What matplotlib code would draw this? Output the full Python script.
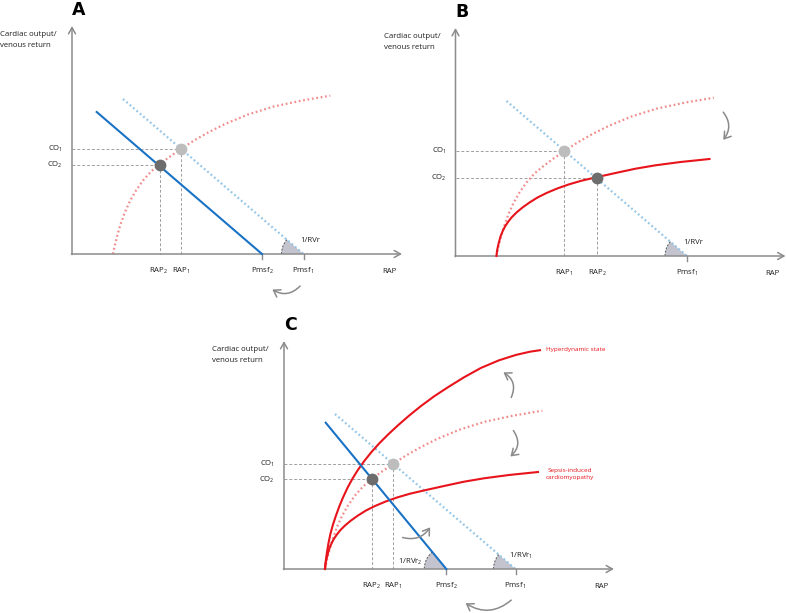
import numpy as np
import matplotlib
matplotlib.use("Agg")
import matplotlib.pyplot as plt
from matplotlib.patches import Wedge, Arc, FancyArrowPatch

plt.rcParams['font.family'] = ['Open Sans', 'DejaVu Sans']
plt.rcParams['mathtext.fontset'] = 'custom'
plt.rcParams['mathtext.rm'] = 'Open Sans'
plt.rcParams['mathtext.default'] = 'regular'

# --- curves (x = RAP, y = CO/VR, arbitrary units) ---
# normal cardiac function curve (dotted)
base_x = [41, 42.7, 45, 48.3, 53, 58, 64, 71, 79, 88, 97, 109, 122, 137, 153, 176, 201.7, 231, 258.3]
base_y = [0, 8.3, 17.5, 29, 42, 53, 63.5, 73.5, 82.5, 90, 96.8, 105, 113.5, 122, 130, 139.5, 147.5, 153.7, 158.3]

# sepsis-induced cardiomyopathy (depressed curve)
sepsis_x = [41, 41.5, 42.3, 43.5, 45, 47, 49.5, 52.5, 56, 61, 67, 74, 82, 91, 101.7, 113, 126,
            142, 160, 180, 200, 225, 254]
sepsis_y = [0, 5, 9, 14, 19.5, 24.5, 29.5, 34, 38.5, 43.5, 48.5, 53.5, 58.5, 63, 67.5, 71.5,
            75.3, 79, 83, 87.3, 90.7, 94, 97]

# hyperdynamic state
hyper_x = [41, 41.4, 42, 43, 44.5, 46.5, 49, 52, 55.3, 59, 63.5, 68.5, 74, 80.5, 87.5, 95.3, 104,
           114, 125, 137, 150, 164, 180, 197, 215, 232, 246, 256]
hyper_y = [0, 5, 10, 17, 26, 35.5, 44.5, 53.5, 62.6, 71.5, 81.2, 90.4, 99.2, 108.3, 117, 125.7,
           134.4, 143.7, 153.3, 163, 172.6, 181.8, 191.7, 201.1, 208.7, 214.1, 217.3, 218.8]

# venous return lines: [x_start, Pmsf], [y_start, 0]
vr1_x, vr1_y = [51, 231.5], [155, 0]
vr2a_x, vr2a_y = [24.7, 190], [142, 0]
vr2c_x, vr2c_y = [41.7, 162.3], [146.3, 0]

# operating points (RAP, CO)
op_a = {'1': (108.6, 105.3), '2': (88, 89)}
op_b = {'1': (108.6, 105.3), '2': (141.8, 78.5)}
op_c = {'1': (108.6, 105.3), '2': (88.3, 89.6)}

W, H = 786, 613
AXC = '#8c8c8c'
RED = '#e8141b'
RED_DOT = '#f28b8b'
BLUE = '#1a72c4'
BLUE_DOT = '#92c5e8'
GUIDE = '#a0a0a0'
ARROW = '#8a8a8a'
TXT = '#1e1e1e'
FS = 5.6

fig = plt.figure(figsize=(W / 100, H / 100), dpi=100)


def panel(ox, oy, box):
    l, t, r, b = box
    ax = fig.add_axes([l / W, 1 - b / H, (r - l) / W, (b - t) / H])
    ax.set_xlim(l - ox, r - ox)
    ax.set_ylim(oy - b, oy - t)
    ax.axis('off')
    return ax


def frame(ax, letter):
    st = '->,head_length=0.45,head_width=0.25'
    ax.annotate('', xy=(0, 228), xytext=(0, -0.6), annotation_clip=False,
                arrowprops=dict(arrowstyle=st, color=AXC, lw=1.1, shrinkA=0, shrinkB=0))
    ax.annotate('', xy=(330, 0), xytext=(-0.6, 0), annotation_clip=False,
                arrowprops=dict(arrowstyle=st, color=AXC, lw=1.1, shrinkA=0, shrinkB=0))
    ax.text(-72, 214, 'Cardiac output/\nvenous return', fontsize=FS, ha='left',
            va='center', linespacing=1.7, color=TXT)
    ax.text(317, -17, 'RAP', fontsize=FS, ha='center', va='center', color=TXT)
    ax.text(0, 244, letter, fontsize=12.5, fontweight='bold', ha='left', va='center',
            family='DejaVu Sans')


def dotted(ax, x, y, color):
    ax.plot(x, y, color=color, lw=1.6, ls=(0, (0.8, 1.2)), dash_capstyle='butt', zorder=2)


def solid(ax, x, y, color):
    ax.plot(x, y, color=color, lw=1.5, zorder=3, solid_joinstyle='round')


def tick(ax, x, label):
    ax.plot([x, x], [0, -5], color=AXC, lw=1.0)
    ax.text(x, -17, label, fontsize=FS, ha='center', va='center', color=TXT)


def wedge(ax, vx, vy):
    ang = np.degrees(np.arctan2(vy[0] - vy[1], vx[1] - vx[0]))
    ax.add_patch(Wedge((vx[1], 0), 22, 180 - ang, 180, facecolor='#c4c4ce',
                       edgecolor='none', zorder=1))
    ax.add_patch(Arc((vx[1], 0), 44, 44, theta1=180 - ang, theta2=180, color='#555555',
                     lw=0.7, ls=(0, (2, 1.5)), zorder=1))


def ops(ax, pts, labels):
    for k, (x, y) in pts.items():
        ax.plot([0, x], [y, y], color=GUIDE, lw=0.7, ls=(0, (3, 2)), zorder=1)
        ax.plot([x, x], [y, 0], color=GUIDE, lw=0.7, ls=(0, (3, 2)), zorder=1)
        ax.plot(x, y, 'o', ms=8.5, mec='none', color='#bdbdbd' if k == '1' else '#6d6d6d',
                zorder=5)
        ax.text(-9, y, 'CO$_%s$' % k, fontsize=FS, ha='right', va='center', color=TXT)
        if labels:
            ax.text(x, -17, 'RAP$_%s$' % k, fontsize=FS, ha='center', va='center', color=TXT)


def curved(ax, a, b, rad):
    ax.add_patch(FancyArrowPatch(a, b, connectionstyle='arc3,rad=%s' % rad,
                                 arrowstyle='->,head_length=0.45,head_width=0.3',
                                 mutation_scale=10, color=ARROW, lw=1.1, zorder=4))


# ---------------- A ----------------
ax = panel(72, 254, (0, 0, 393, 300))
frame(ax, 'A')
wedge(ax, vr1_x, vr1_y)
dotted(ax, base_x, base_y, RED_DOT)
dotted(ax, vr1_x, vr1_y, BLUE_DOT)
solid(ax, vr2a_x, vr2a_y, BLUE)
ops(ax, op_a, False)
ax.text(op_a['2'][0] - 1, -17, 'RAP$_2$', fontsize=FS, ha='center', va='center', color=TXT)
ax.text(op_a['1'][0] + 1, -17, 'RAP$_1$', fontsize=FS, ha='center', va='center', color=TXT)
tick(ax, vr2a_x[1], 'Pmsf$_2$')
tick(ax, vr1_x[1], 'Pmsf$_1$')
ax.text(228, 14, '1/RVr', fontsize=FS, ha='left', va='center', color=TXT)
curved(ax, (230, -30), (198, -34), -0.45)

# ---------------- B ----------------
ax = panel(455.5, 256, (393, 0, 786, 300))
frame(ax, 'B')
wedge(ax, vr1_x, vr1_y)
dotted(ax, base_x, base_y, RED_DOT)
solid(ax, sepsis_x, sepsis_y, RED)
dotted(ax, vr1_x, vr1_y, BLUE_DOT)
ops(ax, op_b, True)
tick(ax, vr1_x[1], 'Pmsf$_1$')
ax.text(228, 14, '1/RVr', fontsize=FS, ha='left', va='center', color=TXT)
curved(ax, (266, 146), (266, 114), -0.44)

# ---------------- C ----------------
ax = panel(284, 569, (200, 300, 640, 613))
frame(ax, 'C')
wedge(ax, vr1_x, vr1_y)
wedge(ax, vr2c_x, vr2c_y)
dotted(ax, base_x, base_y, RED_DOT)
solid(ax, hyper_x, hyper_y, RED)
solid(ax, sepsis_x, sepsis_y, RED)
dotted(ax, vr1_x, vr1_y, BLUE_DOT)
solid(ax, vr2c_x, vr2c_y, BLUE)
ops(ax, op_c, False)
ax.text(op_c['2'][0] - 1, -17, 'RAP$_2$', fontsize=FS, ha='center', va='center', color=TXT)
ax.text(op_c['1'][0] + 1, -17, 'RAP$_1$', fontsize=FS, ha='center', va='center', color=TXT)
tick(ax, vr2c_x[1], 'Pmsf$_2$')
tick(ax, vr1_x[1], 'Pmsf$_1$')
ax.text(139, 7, '1/RVr$_2$', fontsize=FS, ha='right', va='center', color=TXT)
ax.text(225, 13, '1/RVr$_1$', fontsize=FS, ha='left', va='center', color=TXT)
ax.text(262, 219.7, 'Hyperdynamic state', fontsize=4.6, ha='left', va='center', color=RED)
ax.text(286, 95, 'Sepsis-induced\ncardiomyopathy', fontsize=4.6, ha='center', va='center',
        color=RED, linespacing=1.5)
curved(ax, (226, 169), (217, 198), 0.5)
curved(ax, (227.7, 140.7), (224.3, 110.7), -0.5)
curved(ax, (116, 32.3), (147.7, 44), 0.4)
curved(ax, (229.3, -29.3), (179.3, -32.7), -0.4)

fig.savefig('out.png', dpi=100)
